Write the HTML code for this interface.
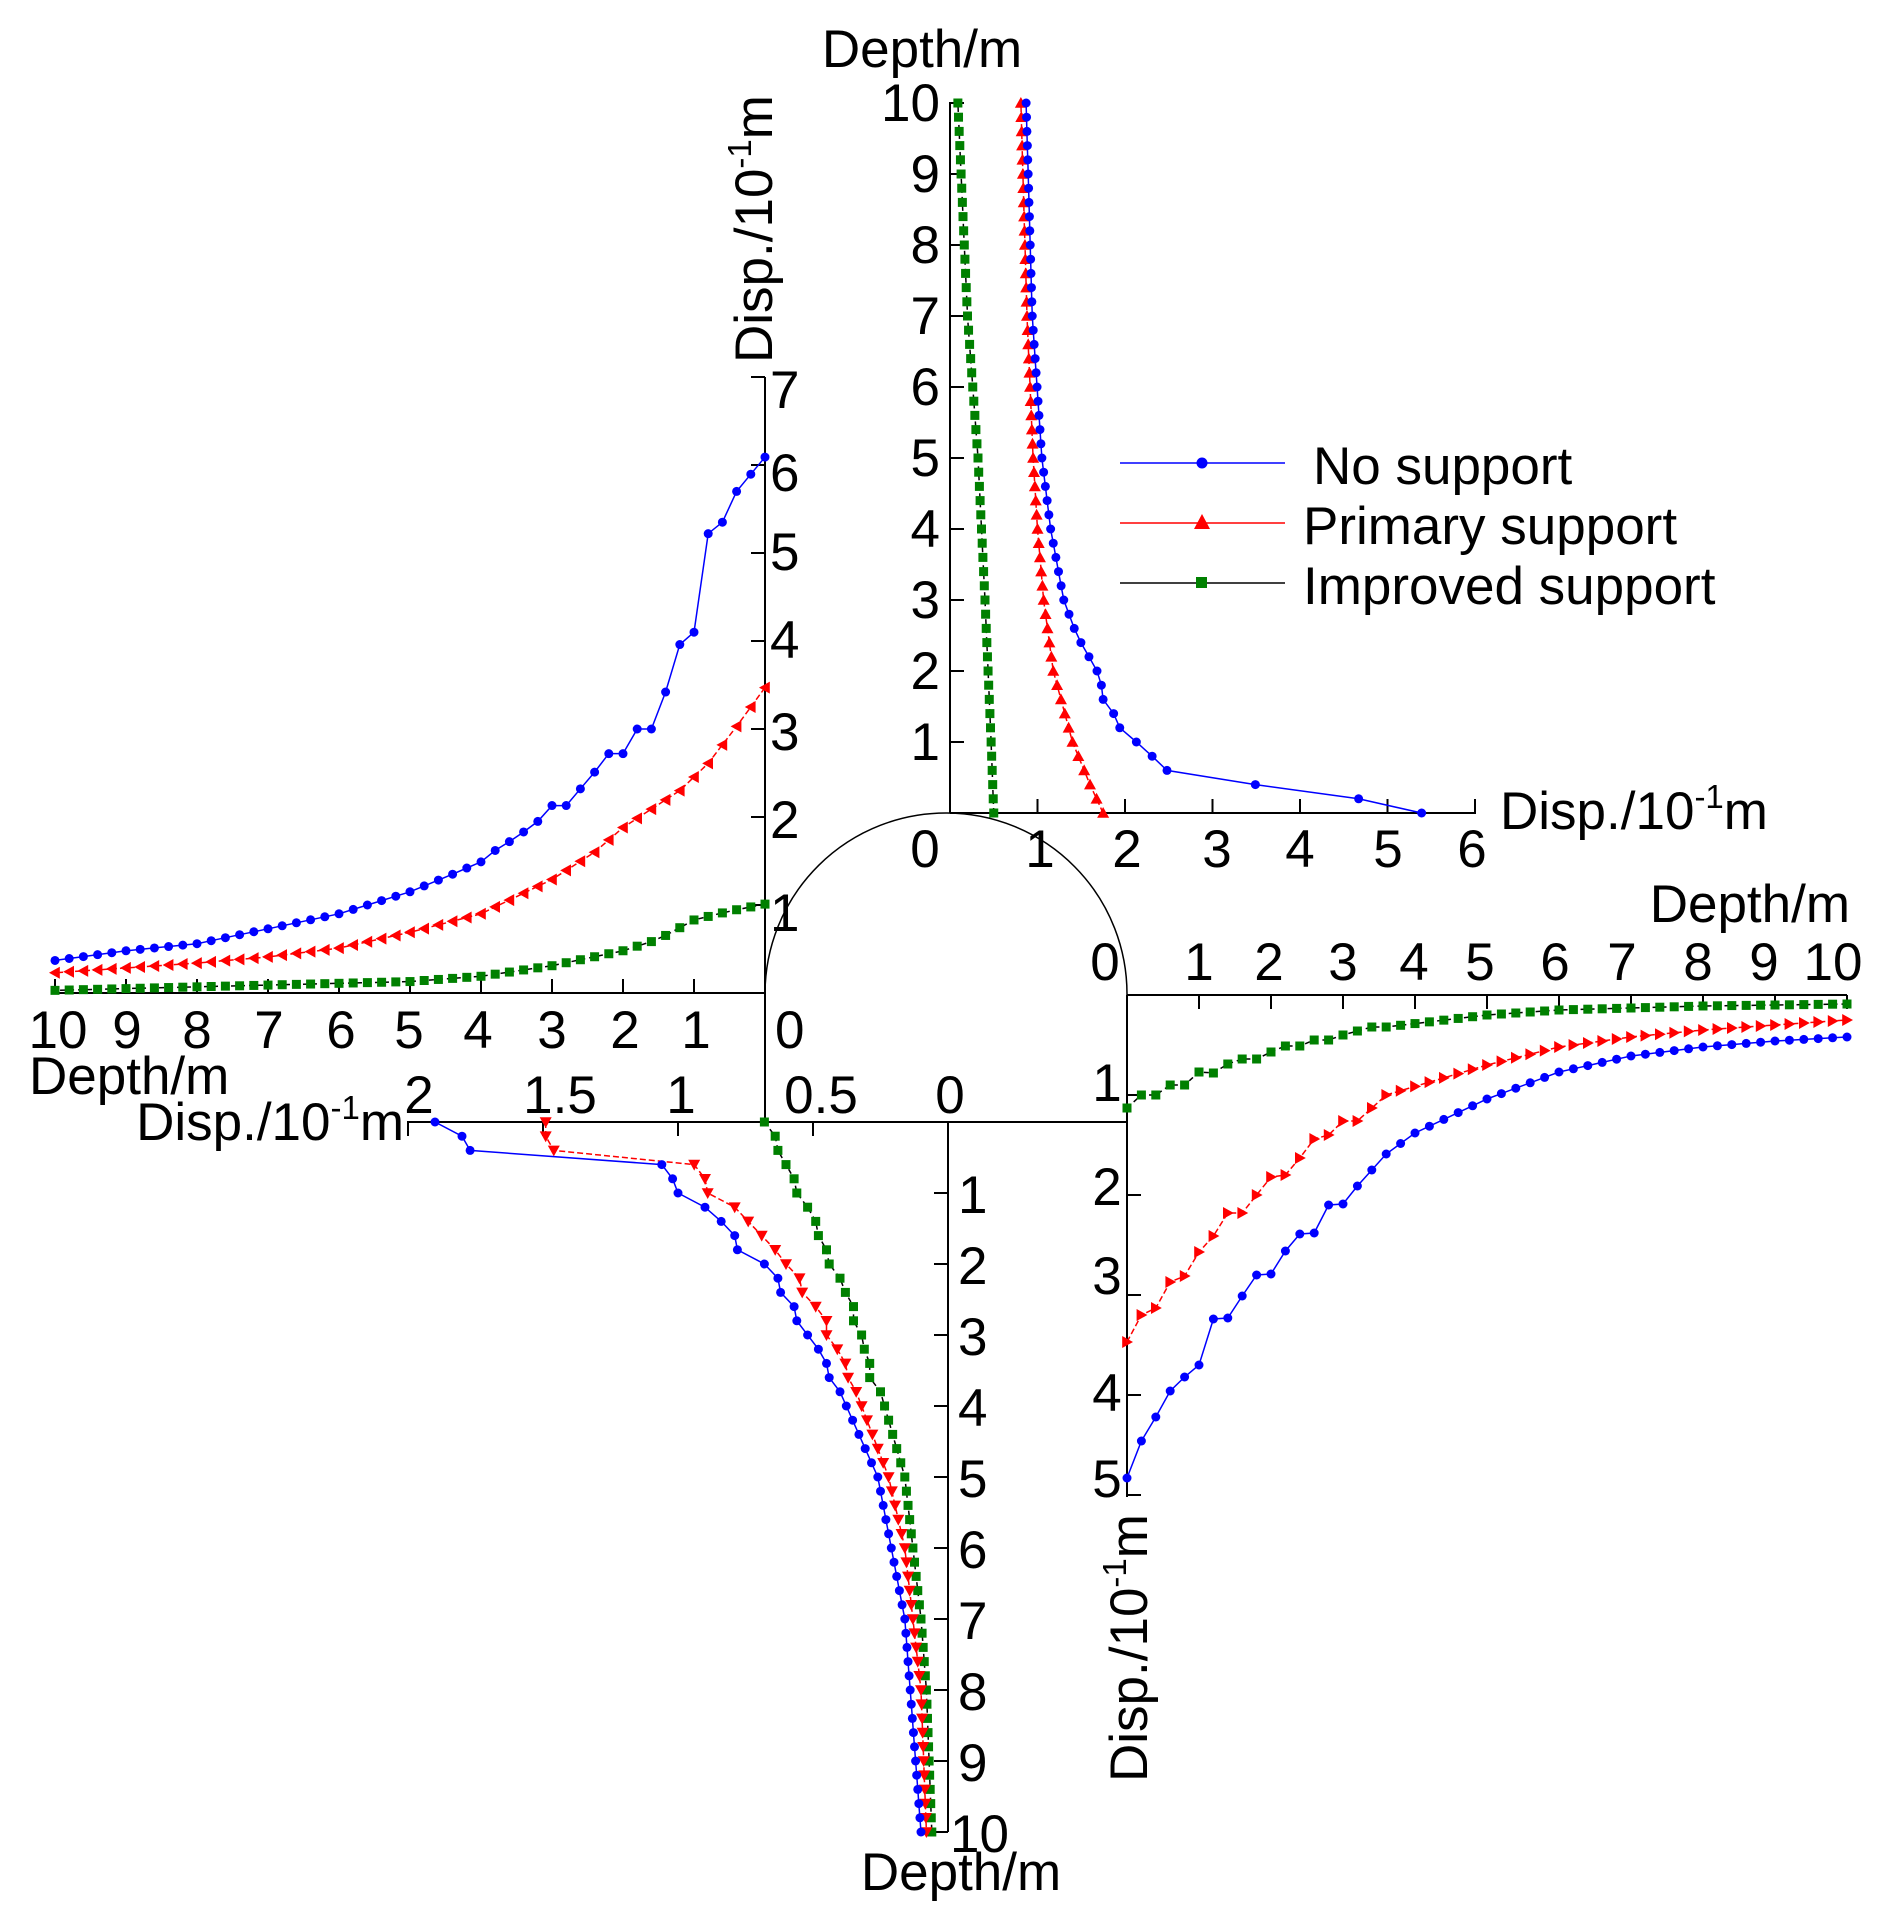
<!DOCTYPE html>
<html><head><meta charset="utf-8"><style>
html,body{margin:0;padding:0;background:#fff}
svg{display:block}
text{font-family:"Liberation Sans",sans-serif;font-size:53px;fill:#000}
</style></head><body>
<svg id="s" width="1897" height="1931" viewBox="0 0 1897 1931" xmlns="http://www.w3.org/2000/svg">
<g id="axes" stroke="#000" stroke-width="2" fill="none">
<path d="M765,993 A181,181 0 0 1 1127,995" stroke-width="1.5"/>
<line x1="950" y1="813" x2="1476" y2="813"/>
<line x1="950" y1="813" x2="950" y2="102"/>
<line x1="55" y1="993" x2="765" y2="993"/>
<line x1="765" y1="377" x2="765" y2="1122"/>
<line x1="407" y1="1122" x2="1127" y2="1122"/>
<line x1="948" y1="1122" x2="948" y2="1832"/>
<line x1="1127" y1="995" x2="1847" y2="995"/>
<line x1="1127" y1="995" x2="1127" y2="1497"/>
</g>
<g id="ticks" stroke="#000" stroke-width="2"></g>
<g id="data"></g>
<g id="labels">
<text x="922" y="67" text-anchor="middle">Depth/m</text>
<text x="940" y="121" text-anchor="end">10</text>
<text x="940" y="192" text-anchor="end">9</text>
<text x="940" y="263" text-anchor="end">8</text>
<text x="940" y="334" text-anchor="end">7</text>
<text x="940" y="405" text-anchor="end">6</text>
<text x="940" y="476" text-anchor="end">5</text>
<text x="940" y="547" text-anchor="end">4</text>
<text x="940" y="618" text-anchor="end">3</text>
<text x="940" y="689" text-anchor="end">2</text>
<text x="940" y="760" text-anchor="end">1</text>
<text x="925" y="867" text-anchor="middle">0</text>
<text x="1040" y="867" text-anchor="middle">1</text>
<text x="1127" y="867" text-anchor="middle">2</text>
<text x="1217" y="867" text-anchor="middle">3</text>
<text x="1300" y="867" text-anchor="middle">4</text>
<text x="1388" y="867" text-anchor="middle">5</text>
<text x="1472" y="867" text-anchor="middle">6</text>
<text x="1500" y="829">Disp./10<tspan font-size="33" dy="-21">-1</tspan><tspan dy="21">m</tspan></text>

<text x="770" y="408">7</text>
<text x="770" y="491">6</text>
<text x="770" y="570">5</text>
<text x="770" y="658">4</text>
<text x="770" y="750">3</text>
<text x="770" y="838">2</text>
<text x="770" y="931">1</text>
<text x="775" y="1048">0</text>
<text transform="translate(772,363) rotate(-90)">Disp./10<tspan font-size="33" dy="-21">-1</tspan><tspan dy="21">m</tspan></text>
<text x="58" y="1048" text-anchor="middle">10</text>
<text x="127" y="1048" text-anchor="middle">9</text>
<text x="197" y="1048" text-anchor="middle">8</text>
<text x="269" y="1048" text-anchor="middle">7</text>
<text x="341" y="1048" text-anchor="middle">6</text>
<text x="409" y="1048" text-anchor="middle">5</text>
<text x="478" y="1048" text-anchor="middle">4</text>
<text x="552" y="1048" text-anchor="middle">3</text>
<text x="625" y="1048" text-anchor="middle">2</text>
<text x="696" y="1048" text-anchor="middle">1</text>
<text x="29" y="1094">Depth/m</text>

<text x="419" y="1113" text-anchor="middle">2</text>
<text x="560" y="1113" text-anchor="middle">1.5</text>
<text x="681" y="1113" text-anchor="middle">1</text>
<text x="821" y="1113" text-anchor="middle">0.5</text>
<text x="950" y="1113" text-anchor="middle">0</text>
<text x="404" y="1140" text-anchor="end">Disp./10<tspan font-size="33" dy="-21">-1</tspan><tspan dy="21">m</tspan></text>
<text x="958" y="1213">1</text>
<text x="958" y="1284">2</text>
<text x="958" y="1355">3</text>
<text x="958" y="1426">4</text>
<text x="958" y="1497">5</text>
<text x="958" y="1568">6</text>
<text x="958" y="1639">7</text>
<text x="958" y="1710">8</text>
<text x="958" y="1781">9</text>
<text x="950" y="1852">10</text>
<text x="961" y="1890" text-anchor="middle">Depth/m</text>

<text x="1850" y="922" text-anchor="end">Depth/m</text>
<text x="1105" y="980" text-anchor="middle">0</text>
<text x="1199" y="980" text-anchor="middle">1</text>
<text x="1269" y="980" text-anchor="middle">2</text>
<text x="1343" y="980" text-anchor="middle">3</text>
<text x="1414" y="980" text-anchor="middle">4</text>
<text x="1480" y="980" text-anchor="middle">5</text>
<text x="1555" y="980" text-anchor="middle">6</text>
<text x="1622" y="980" text-anchor="middle">7</text>
<text x="1698" y="980" text-anchor="middle">8</text>
<text x="1764" y="980" text-anchor="middle">9</text>
<text x="1833" y="980" text-anchor="middle">10</text>
<text x="1107" y="1101" text-anchor="middle">1</text>
<text x="1107" y="1205" text-anchor="middle">2</text>
<text x="1107" y="1294" text-anchor="middle">3</text>
<text x="1107" y="1411" text-anchor="middle">4</text>
<text x="1107" y="1497" text-anchor="middle">5</text>
<text transform="translate(1147,1782) rotate(-90)">Disp./10<tspan font-size="33" dy="-21">-1</tspan><tspan dy="21">m</tspan></text>

<line x1="1120" y1="463" x2="1285" y2="463" stroke="#0000ff" stroke-width="1.5"/>
<circle cx="1202" cy="463" r="5.5" fill="#0000ff"/>
<line x1="1120" y1="523" x2="1285" y2="523" stroke="#ff0000" stroke-width="1.5"/>
<polygon points="1202,514 1210,529 1194,529" fill="#ff0000"/>
<line x1="1120" y1="583" x2="1285" y2="583" stroke="#000" stroke-width="1.5"/>
<rect x="1196" y="577" width="11" height="11" fill="#008000"/>
<text x="1313" y="484">No support</text>
<text x="1303" y="544">Primary support</text>
<text x="1303" y="604">Improved support</text>
</g>
</svg>
<script>
(function(){
var NS="http://www.w3.org/2000/svg";
var ticks=document.getElementById('ticks'),data=document.getElementById('data');
function L(g,x1,y1,x2,y2){var l=document.createElementNS(NS,'line');l.setAttribute('x1',x1);l.setAttribute('y1',y1);l.setAttribute('x2',x2);l.setAttribute('y2',y2);g.appendChild(l);}
var i;
for(i=1;i<=10;i++)L(ticks,950,813-71*i,964,813-71*i);
for(i=1;i<=6;i++)L(ticks,950+87.5*i,813,950+87.5*i,799);
for(i=1;i<=7;i++)L(ticks,765,993-88*i,751,993-88*i);
for(i=1;i<=10;i++)L(ticks,765-71*i,993,765-71*i,979);
for(i=1;i<=4;i++)L(ticks,948-135*i,1122,948-135*i,1136);
for(i=1;i<=10;i++)L(ticks,948,1122+71*i,934,1122+71*i);
for(i=1;i<=10;i++)L(ticks,1127+72*i,995,1127+72*i,1009);
for(i=1;i<=5;i++)L(ticks,1127,995+100*i,1141,995+100*i);

function interp(ctrl,d){for(var k=0;k<ctrl.length-1;k++){var a=ctrl[k],b=ctrl[k+1];if(d>=a[0]-1e-9&&d<=b[0]+1e-9){var t=(d-a[0])/(b[0]-a[0]||1);return a[1]+t*(b[1]-a[1]);}}return ctrl[ctrl.length-1][1];}
function series(ctrl,map,col,lineCol,dash,marker,dir){
 var pts=[];for(var j=0;j<=50;j++){var d=j*0.2;var v=interp(ctrl,d);pts.push(map(d,v));}
 var p=document.createElementNS(NS,'polyline');p.setAttribute('points',pts.map(function(q){return q[0].toFixed(1)+','+q[1].toFixed(1)}).join(' '));
 p.setAttribute('fill','none');p.setAttribute('stroke',lineCol);p.setAttribute('stroke-width','1.5');if(dash)p.setAttribute('stroke-dasharray',dash);data.appendChild(p);
 pts.forEach(function(q){var x=q[0],y=q[1],e;
  if(marker=='c'){e=document.createElementNS(NS,'circle');e.setAttribute('cx',x);e.setAttribute('cy',y);e.setAttribute('r',4.5);}
  else if(marker=='s'){e=document.createElementNS(NS,'rect');e.setAttribute('x',x-4.5);e.setAttribute('y',y-4.5);e.setAttribute('width',9);e.setAttribute('height',9);}
  else{var s=6,P;if(dir=='u')P=[[x,y-s],[x+s,y+s*0.8],[x-s,y+s*0.8]];else if(dir=='d')P=[[x,y+s],[x+s,y-s*0.8],[x-s,y-s*0.8]];else if(dir=='l')P=[[x-s,y],[x+s*0.8,y-s],[x+s*0.8,y+s]];else P=[[x+s,y],[x-s*0.8,y-s],[x-s*0.8,y+s]];
   e=document.createElementNS(NS,'polygon');e.setAttribute('points',P.map(function(r){return r.join(',')}).join(' '));}
  e.setAttribute('fill',col);data.appendChild(e);});
}
var top_=function(d,v){return[950+87.5*v,813-71*d]};
var left=function(d,v){return[765-71*d,993-88*v]};
var bot=function(d,v){return[948-270*v,1122+71*d]};
var right=function(d,v){return[1127+72*d,995+100*v]};
series([[0,0.5],[1,0.47],[3,0.4],[5,0.32],[7,0.2],[10,0.09]],top_,'#008000','#000','5,4','s');
series([[0,1.75],[0.4,1.6],[1,1.4],[2,1.18],[3,1.07],[4,1.0],[5,0.95],[7,0.88],[10,0.81]],top_,'#ff0000','#ff0000','6,3','t','u');
series([[0,5.39],[0.2,4.67],[0.4,3.49],[0.6,2.48],[0.8,2.31],[1,2.13],[1.2,1.94],[1.4,1.87],[1.6,1.75],[1.8,1.73],[2,1.68],[2.5,1.45],[3,1.3],[4,1.15],[5,1.05],[7,0.94],[10,0.87]],top_,'#0000ff','#0000ff',null,'c');
series([[0,1.01],[0.5,0.93],[1,0.83],[1.5,0.61],[2,0.48],[3,0.31],[4,0.19],[5,0.13],[7,0.09],[10,0.03]],left,'#008000','#000','5,4','s');
series([[0,3.47],[0.4,3.03],[0.8,2.61],[1.2,2.3],[1.6,2.09],[2,1.88],[2.4,1.6],[3,1.29],[4,0.9],[5,0.69],[6,0.51],[7,0.41],[8,0.34],[10,0.23]],left,'#ff0000','#ff0000','6,3','t','l');
series([[0,6.09],[0.4,5.7],[0.6,5.35],[0.8,5.22],[1.0,4.1],[1.2,3.96],[1.4,3.42],[1.6,3.0],[1.8,3.0],[2.0,2.72],[2.2,2.72],[2.4,2.51],[2.8,2.13],[3.0,2.13],[3.2,1.95],[3.5,1.77],[3.8,1.62],[4.0,1.49],[4.4,1.35],[5,1.15],[6,0.9],[7,0.73],[8,0.56],[9,0.48],[10,0.37]],left,'#0000ff','#0000ff',null,'c');
series([[0,0.68],[0.2,0.64],[0.4,0.63],[0.6,0.6],[0.8,0.57],[1.0,0.56],[1.2,0.52],[1.4,0.49],[1.6,0.48],[1.8,0.45],[2.0,0.44],[2.2,0.4],[2.4,0.38],[2.6,0.35],[2.8,0.35],[3.0,0.32],[3.2,0.31],[3.4,0.29],[3.6,0.29],[3.8,0.25],[5,0.16],[6,0.13],[7,0.1],[8,0.08],[10,0.06]],bot,'#008000','#000','5,4','s');
series([[0,1.49],[0.2,1.49],[0.4,1.46],[0.6,0.94],[0.8,0.9],[1.0,0.89],[1.2,0.79],[1.4,0.74],[1.6,0.69],[1.8,0.64],[2.0,0.6],[2.2,0.55],[2.4,0.54],[2.6,0.49],[2.8,0.45],[3.0,0.45],[3.2,0.41],[3.4,0.38],[3.6,0.37],[3.8,0.34],[5,0.22],[6,0.16],[7,0.13],[8,0.1],[10,0.08]],bot,'#ff0000','#ff0000','6,3','t','d');
series([[0,1.9],[0.2,1.8],[0.4,1.77],[0.6,1.06],[0.8,1.02],[1.0,1.0],[1.2,0.9],[1.4,0.84],[1.6,0.79],[1.8,0.78],[2.0,0.68],[2.2,0.63],[2.4,0.62],[2.6,0.57],[2.8,0.56],[3.0,0.52],[3.2,0.48],[3.4,0.45],[3.6,0.44],[3.8,0.4],[5,0.26],[6,0.21],[7,0.16],[8,0.14],[10,0.1]],bot,'#0000ff','#0000ff',null,'c');
series([[0,1.13],[0.2,1.0],[0.4,1.0],[0.6,0.9],[0.8,0.9],[1.0,0.77],[1.2,0.78],[1.4,0.69],[1.6,0.64],[1.8,0.64],[2.0,0.57],[2.2,0.51],[2.4,0.51],[2.6,0.45],[2.8,0.45],[3.0,0.40],[3.2,0.36],[3.4,0.32],[3.6,0.32],[5,0.2],[6,0.15],[8,0.11],[10,0.09]],right,'#008000','#000','5,4','s');
series([[0,3.47],[0.2,3.2],[0.4,3.13],[0.6,2.87],[0.8,2.81],[1.0,2.57],[1.2,2.41],[1.4,2.18],[1.6,2.18],[1.8,2.0],[2.0,1.82],[2.2,1.8],[2.4,1.63],[2.6,1.44],[2.8,1.4],[3.0,1.26],[3.2,1.26],[3.4,1.13],[3.6,1.0],[5,0.7],[6,0.52],[7,0.42],[8,0.35],[9,0.3],[10,0.25]],right,'#ff0000','#ff0000','6,3','t','r');
series([[0,4.83],[0.2,4.46],[0.4,4.22],[0.6,3.96],[0.8,3.82],[1.0,3.70],[1.2,3.24],[1.4,3.23],[1.6,3.01],[1.8,2.8],[2.0,2.79],[2.2,2.56],[2.4,2.39],[2.6,2.38],[2.8,2.1],[3.0,2.09],[3.2,1.91],[3.4,1.75],[3.6,1.59],[4,1.38],[5,1.04],[6,0.77],[7,0.61],[8,0.52],[9,0.46],[10,0.42]],right,'#0000ff','#0000ff',null,'c');
})();
</script>
</body></html>
